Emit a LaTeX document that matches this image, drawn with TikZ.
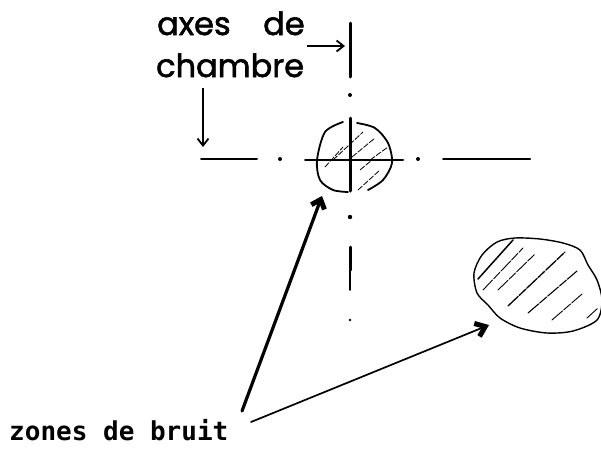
\documentclass[tikz,border=0pt]{standalone}
\usepackage{fontspec}
\setmainfont{Poppins}[FakeBold=1.8]
\newfontfamily\typew{DejaVu Sans Mono}
\usetikzlibrary{arrows.meta}
\tikzset{
 axisline/.style={line width=2pt,line cap=round},
 outline/.style={line width=1.8pt,line cap=round,line join=round},
 hatch/.style={line width=0.9pt,dash pattern=on 14pt off 1.5pt on 9pt off 1.5pt,line cap=round},
 thinptr/.style={line width=1.4pt,-{Straight Barb[length=7pt,width=11pt,line width=1.8pt]}},
 bigptr/.style={line width=3.2pt,line cap=round,-{Straight Barb[length=8pt,width=14pt,line width=5pt]}},
 medptr/.style={line width=1.7pt,line cap=round,-{Straight Barb[length=9pt,width=14pt,line width=5pt]}},
 hand/.style={font=\fontsize{32}{34}\selectfont,inner sep=0pt,anchor=base west},
 marklabel/.style={font=\typew\bfseries\fontsize{26}{28}\selectfont,inner sep=0pt,anchor=base west}
}
\begin{document}
\begin{tikzpicture}[x=1pt,y=-1pt]
\useasboundingbox (0,0) rectangle (601,448);
\clip (0,0) rectangle (601,448);
% labels
\node[hand] (t1) at (157,35) {axes\hspace{24pt} de};
\node[hand] (t2) at (156,77) {chambre};
\node[marklabel] (t3) at (9,440) {zones de bruit};
% vertical axis
\draw[axisline,line width=3pt] (350,23) -- (350,77);
\fill (350,95) circle (2);
\draw[axisline,line width=3pt] (350,118) -- (350,191);
\fill (350,217) circle (2.2);
\draw[axisline,line width=3pt] (350,247) -- (350,270);
\draw[axisline,line width=1.6pt] (350,270) -- (350,290);
\fill (350,320) circle (1.3);
% horizontal axis
\draw[axisline] (201,159) -- (257,159);
\fill (280,159) circle (2);
\draw[axisline] (305,160) -- (403,160);
\fill (418,159) circle (2);
\draw[axisline] (443,159) -- (530,159);
% small blob
\draw[outline] plot[smooth] coordinates {(343,122) (325,132) (317,160) (320,180) (333,190) (348,192)};
\draw[outline] plot[smooth] coordinates {(357,123) (375,128) (388,143) (392,163) (383,180) (368,190)};
\foreach \a/\b/\c/\d in {325/167/343/147, 333/160/363/132, 352/157/375/138, 370/160/388/147, 358/190/380/170, 360/170/372/160}
  \draw[line width=0.8pt,dash pattern=on 6pt off 1.5pt] (\a,\b) -- (\c,\d);
% large blob
\draw[outline,line width=1.4pt] plot[smooth cycle] coordinates {(515,238) (540,239) (563,243) (580,250) (588,265) (597,280) (602,300) (597,320) (573,331) (547,333) (520,328) (500,318) (488,305) (477,293) (474,273) (482,255) (497,242)};
\draw[line width=1.5pt,line cap=round] (478,279) -- (513,240);
\draw[hatch] (483,290) -- (523,248);
\draw[hatch] (498,290) -- (535,254);
\draw[hatch,line width=1.3pt] (508,306) -- (565,252);
\draw[hatch,line width=1.1pt] (528,313) -- (577,271);
\draw[hatch] (552,320) -- (582,294);
\draw[hatch] (587,318) -- (598,308);
% pointers
\coordinate (a1s) at (307,46); \coordinate (a1e) at (345,46);
\coordinate (a2s) at (203,88); \coordinate (a2e) at (203,147);
\coordinate (a3s) at (242,411); \coordinate (a3e) at (322,196);
\coordinate (a4s) at (251,422); \coordinate (a4e) at (489,325);
\draw[thinptr] (a1s) -- (a1e);
\draw[thinptr] (a2s) -- (a2e);
\draw[bigptr] (a3s) -- (a3e);
\draw[medptr] (a4s) -- (a4e);
\end{tikzpicture}
\end{document}
